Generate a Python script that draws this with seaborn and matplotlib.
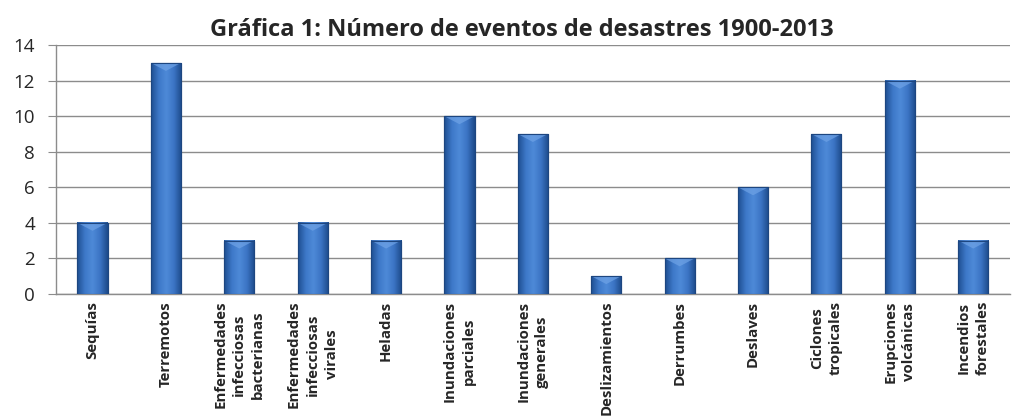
import numpy as np
import pandas as pd
import matplotlib
matplotlib.use('Agg')
import matplotlib.pyplot as plt
import seaborn as sns
from matplotlib.colors import LinearSegmentedColormap

# Data
categories = ['Sequías', 'Terremotos', 'Enfermedades\ninfecciosas\nbacterianas',
              'Enfermedades\ninfecciosas\nvirales', 'Heladas', 'Inundaciones\nparciales',
              'Inundaciones\ngenerales', 'Deslizamientos', 'Derrumbes', 'Deslaves',
              'Ciclones\ntropicales', 'Erupciones\nvolcánicas', 'Incendios\nforestales']
eventos = [4, 13, 3, 4, 3, 10, 9, 1, 2, 6, 9, 12, 3]
y_ticks = [0, 2, 4, 6, 8, 10, 12, 14]

df = pd.DataFrame({'categoria': categories, 'eventos': eventos})

sns.set_style('white')
plt.rcParams['font.family'] = ['Open Sans', 'DejaVu Sans']

fig = plt.figure(figsize=(10.15, 4.18), dpi=100)
ax = fig.add_axes([0.055, 0.297, 0.94, 0.595])

sns.barplot(data=df, x='categoria', y='eventos', color='#3b70bd', width=0.41,
            edgecolor='#1d4680', linewidth=0.8, ax=ax, zorder=3)

# horizontal shading to mimic Excel's cylinder look
cmap = LinearSegmentedColormap.from_list('cyl', ['#1f4f91', '#3d78c8', '#4e8ad8', '#3b74c4', '#1c4a8a'])
grad = np.linspace(0, 1, 64).reshape(1, -1)
for p in ax.patches:
    x0, y0 = p.get_x(), p.get_y()
    w, h = p.get_width(), p.get_height()
    ax.imshow(grad, cmap=cmap, aspect='auto', extent=(x0, x0 + w, y0, y0 + h),
              zorder=4, interpolation='bicubic')
    # lighter bevel at the top of each bar
    bevel = min(0.45, h * 0.5)
    ax.fill([x0, x0 + w, x0 + w * 0.5], [y0 + h, y0 + h, y0 + h - bevel],
            color='#6fa3e6', alpha=0.7, zorder=5, lw=0)
    ax.add_patch(plt.Rectangle((x0, y0), w, h, fill=False, ec='#1d4680', lw=0.8, zorder=6))

ax.set_xlim(-0.5, len(categories) - 0.5)
ax.set_ylim(0, 14)
ax.set_yticks(y_ticks)
ax.set_yticklabels([str(v) for v in y_ticks], fontsize=13.5)
ax.yaxis.grid(True, color='#8c8c8c', linewidth=1.0, zorder=0)
ax.set_axisbelow(True)

ax.set_xticks(range(len(categories)))
ax.set_xticklabels(categories, rotation=90, fontsize=10.8, fontweight='bold',
                   multialignment='center', va='top', ha='center', linespacing=1.45)
ax.tick_params(axis='x', which='major', length=0, pad=5)
ax.set_xticks(np.arange(-0.5, len(categories), 1), minor=True)
ax.tick_params(axis='x', which='minor', length=5, color='#8c8c8c', direction='out')
ax.tick_params(axis='y', length=6, color='#8c8c8c', direction='out', left=True, pad=9)

for s in ['top', 'right']:
    ax.spines[s].set_visible(False)
for s in ['left', 'bottom']:
    ax.spines[s].set_color('#8c8c8c')
    ax.spines[s].set_linewidth(1.0)

ax.set_xlabel('')
ax.set_ylabel('')
fig.text(0.514, 0.928, 'Gráfica 1: Número de eventos de desastres 1900-2013',
         ha='center', va='center', fontsize=17, fontweight='bold')

fig.savefig('out.png', dpi=100)
